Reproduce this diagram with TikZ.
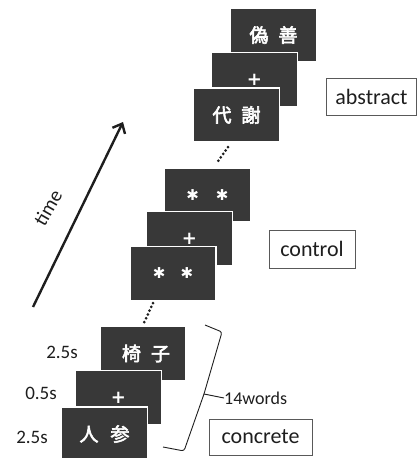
\documentclass[tikz,border=0pt]{standalone}
\usepackage{fontspec}
\setmainfont{Carlito}
\newfontfamily\cjk{Noto Sans CJK JP}[FakeBold=3]
\newfontfamily\symb{DejaVu Sans}
\usetikzlibrary{arrows.meta}
\definecolor{slidegray}{HTML}{383838}
\definecolor{ink}{HTML}{1E1E1E}
\begin{document}
\begin{tikzpicture}[x=1pt,y=-1pt,
  slide/.style={rectangle, fill=slidegray, draw=white, line width=1.3pt,
    minimum width=86pt, minimum height=54pt, inner sep=0pt, text=white,
    font=\cjk\fontsize{19}{19}\selectfont},
  tag/.style={rectangle, draw=black!65, line width=0.7pt, inner sep=0pt,
    text=ink, font=\fontsize{22}{22}\selectfont},
  dur/.style={text=ink, font=\fontsize{19}{19}\selectfont},
  dotline/.style={line width=3pt, line cap=round, dash pattern=on 0pt off 4.2pt, draw=ink}
]
\useasboundingbox (0,0) rectangle (418,458);

% abstract group
\node[slide] (a3) at (273.5,35) {\raisebox{-4pt}{偽\hspace{10pt}善}};
\node[slide] (a2) at (254.5,79.5) {\raisebox{-3pt}{\symb\bfseries\fontsize{18}{18}\selectfont +}};
\node[slide] (a1) at (236.5,115) {\raisebox{-2pt}{代\hspace{10pt}謝}};

% control group
\node[slide] (c3) at (207.5,195) {\symb\fontsize{15}{15}\selectfont ✱\hspace{17pt}✱};
\node[slide] (c2) at (189.5,238.5) {\raisebox{-5pt}{\symb\bfseries\fontsize{18}{18}\selectfont +}};
\node[slide] (c1) at (173,273.5) {\symb\fontsize{15}{15}\selectfont ✱\hspace{15pt}✱};

% concrete group
\node[slide] (k3) at (143,353.5) {\raisebox{-1pt}{\hspace{6pt}椅\hspace{10pt}子}};
\node[slide] (k2) at (118.5,397.5) {\symb\bfseries\fontsize{18}{18}\selectfont +};
\node[slide] (k1) at (104.5,434) {人\hspace{12pt}参};

% dotted continuations
\coordinate (p1) at (228,147);
\coordinate (p2) at (216,164);
\coordinate (p3) at (153,303);
\coordinate (p4) at (143,325);
\draw[dotline] (p1) -- (p2);
\draw[dotline] (p3) -- (p4);

% condition labels
\node[tag, minimum width=90pt, minimum height=37pt] (abs) at (371.5,96.5) {abstract};
\node[tag, minimum width=86pt, minimum height=38pt] (con) at (312,249) {control};
\node[tag, minimum width=103pt, minimum height=36pt] (cnc) at (260.5,437) {concrete};

% durations
\node[dur] (t1) at (62,352) {2.5s};
\node[dur] (t2) at (41,393) {0.5s};
\node[dur] (t3) at (32,437) {2.5s};

% time arrow
\coordinate (ts) at (33,307);
\coordinate (te) at (123,122);
\draw[line width=2.4pt, draw=ink, -{Straight Barb[length=8pt,width=14pt,line width=2.4pt]}] (ts) -- (te);
\node[text=ink, font=\fontsize{20}{20}\selectfont, rotate=60, inner sep=0pt] (time) at (48,208) {time};

% brace
\coordinate (b1) at (205,325);
\coordinate (b2) at (222,332);
\coordinate (bt) at (204,394);
\coordinate (b4) at (184,451);
\coordinate (b5) at (163,447);
\draw[line width=0.9pt, draw=ink, rounded corners=2.5pt] (b1) -- (b2) -- (bt) -- (b4) -- (b5);
\node[text=ink, font=\fontsize{18}{18}\selectfont, anchor=west, inner sep=0pt] (words) at (224,398) {14words};
\draw[line width=0.9pt, draw=ink] (bt) -- (words.west);
\end{tikzpicture}
\end{document}
